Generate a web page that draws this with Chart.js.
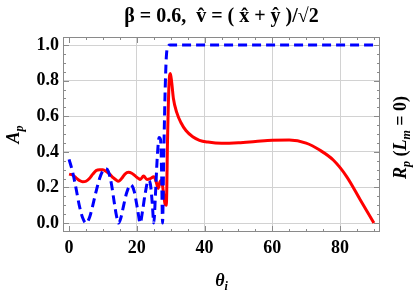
<!DOCTYPE html>
<html>
<head>
<meta charset="utf-8">
<script src="https://cdn.jsdelivr.net/npm/chart.js@4"></script>
<style>
  body { margin: 0; background: #fff; }
  canvas { display: block; }
</style>
</head>
<body>
<canvas id="chart" width="415" height="291"></canvas>
<script>
// Data
const thetaBlue = [0, 1, 2, 3, 4, 5, 6, 7, 8, 9, 10, 10.8, 11.6, 12.5, 13.3, 14, 14.6, 15.3, 16, 17, 18.2, 19.2, 20.2, 21, 21.7, 22.5, 23.4, 24.0, 24.6, 25.0, 25.5, 26.0, 26.6, 27.0, 27.3, 27.6, 27.9, 28.3, 28.7, 29.2, 29.8, 90];
const rpBlue = [0.358, 0.29, 0.20, 0.10, 0.03, 0, 0.03, 0.10, 0.18, 0.25, 0.295, 0.305, 0.29, 0.22, 0.12, 0.04, 0, 0.03, 0.09, 0.17, 0.215, 0.18, 0.08, 0, 0.07, 0.17, 0.24, 0.22, 0.10, 0, 0.16, 0.36, 0.48, 0.47, 0.30, 0, 0.32, 0.70, 0.93, 0.99, 1.0, 1.0];

const thetaRed = [0, 1, 2, 3, 4, 5, 6, 7, 8, 9, 10, 11, 12, 13, 14, 14.5, 15.5, 16.5, 17.5, 18.5, 19.5, 20.5, 21, 22, 23, 24, 25, 25.6, 26.3, 26.8, 27.3, 27.8, 28.3, 28.7, 29.1, 29.5, 29.9, 30.3, 30.8, 31.8, 33, 34.5, 36.5, 38.5, 41, 45, 50, 55, 60, 65, 70, 74, 78, 82, 86, 90];
const apRed = [0.275, 0.27, 0.255, 0.24, 0.232, 0.235, 0.25, 0.275, 0.295, 0.30, 0.30, 0.29, 0.275, 0.255, 0.24, 0.235, 0.25, 0.275, 0.285, 0.28, 0.265, 0.25, 0.245, 0.265, 0.245, 0.25, 0.26, 0.24, 0.195, 0.23, 0.24, 0.18, 0.11, 0.10, 0.50, 0.78, 0.84, 0.79, 0.70, 0.62, 0.565, 0.52, 0.485, 0.465, 0.455, 0.448, 0.451, 0.458, 0.465, 0.466, 0.449, 0.41, 0.354, 0.26, 0.13, 0.0];

const xTicks = [0, 20, 40, 60, 80];
const yTicks = [0, 0.2, 0.4, 0.6, 0.8, 1.0];

const SERIF = "'Liberation Serif', 'DejaVu Serif', serif";

// draws text pieces with subscripts, centred on (cx, cy)
function drawRich(ctx, parts, cx, cy, rot) {
    ctx.save();
    ctx.translate(cx, cy);
    ctx.rotate(rot);
    ctx.textBaseline = 'alphabetic';
    ctx.textAlign = 'left';
    ctx.fillStyle = '#000';
    let total = 0;
    parts.forEach(p => {
        ctx.font = (p.italic ? 'italic ' : '') + 'bold ' + (p.sub ? 12 : 18) + 'px ' + SERIF;
        p.w = ctx.measureText(p.t).width;
        total += p.w;
    });
    let x = -total / 2;
    parts.forEach(p => {
        ctx.font = (p.italic ? 'italic ' : '') + 'bold ' + (p.sub ? 12 : 18) + 'px ' + SERIF;
        ctx.fillText(p.t, x, p.sub ? 10 : 6);
        x += p.w;
    });
    ctx.restore();
}

const framePlugin = {
    id: 'frame',
    beforeDatasetsDraw(chart) {
        const { ctx, chartArea: a, scales: { x, y } } = chart;
        ctx.save();
        ctx.strokeStyle = '#8a8a8a';
        ctx.lineWidth = 1;
        ctx.strokeRect(a.left + 0.5, a.top + 0.5, a.width - 1, a.height - 1);
        ctx.beginPath();
        for (let v = 0; v <= 90; v += 5) {
            const px = Math.round(x.getPixelForValue(v)) + 0.5;
            const len = v % 20 === 0 ? 6 : 3;
            ctx.moveTo(px, a.bottom); ctx.lineTo(px, a.bottom - len);
            ctx.moveTo(px, a.top); ctx.lineTo(px, a.top + len);
        }
        for (let i = 0; i <= 20; i++) {
            const py = Math.round(y.getPixelForValue(i * 0.05)) + 0.5;
            const len = i % 4 === 0 ? 6 : 3;
            ctx.moveTo(a.left, py); ctx.lineTo(a.left + len, py);
            ctx.moveTo(a.right, py); ctx.lineTo(a.right - len, py);
        }
        ctx.stroke();
        ctx.restore();
    },
    afterDraw(chart) {
        const { ctx, chartArea: a } = chart;
        const midY = (a.top + a.bottom) / 2;
        drawRich(ctx, [{ t: 'A', italic: true }, { t: 'p', italic: true, sub: true }], 13, midY, -Math.PI / 2);
        drawRich(ctx, [{ t: 'θ', italic: true }, { t: 'i', italic: true, sub: true }], (a.left + a.right) / 2, 280, 0);
        drawRich(ctx, [
            { t: 'R', italic: true }, { t: 'p', italic: true, sub: true },
            { t: ' (' }, { t: 'L', italic: true }, { t: 'm', italic: true, sub: true },
            { t: ' = 0)' }
        ], 400, midY + 3, -Math.PI / 2);
    }
};

const tickFont = { family: SERIF, size: 18, weight: 'bold' };

new Chart(document.getElementById('chart'), {
    type: 'line',
    data: {
        datasets: [{
            label: 'R_p',
            data: thetaBlue.map((t, i) => ({ x: t, y: rpBlue[i] })),
            borderColor: '#0000ff',
            borderWidth: 3,
            borderDash: [9, 5],
            pointRadius: 0,
            cubicInterpolationMode: 'monotone',
            fill: false
        }, {
            label: 'A_p',
            data: thetaRed.map((t, i) => ({ x: t, y: apRed[i] })),
            borderColor: '#ff0000',
            borderWidth: 3,
            pointRadius: 0,
            cubicInterpolationMode: 'monotone',
            fill: false
        }]
    },
    options: {
        responsive: false,
        animation: false,
        layout: { padding: 0 },
        plugins: {
            legend: { display: false },
            tooltip: { enabled: false },
            title: {
                display: true,
                fullSize: false,
                text: 'β = 0.6,  v̂ = ( x̂ + ŷ )/√2',
                color: '#000',
                font: { family: SERIF, size: 20, weight: 'bold' },
                padding: { top: 5, bottom: 8 }
            }
        },
        scales: {
            x: {
                type: 'linear',
                min: -1.8,
                max: 91.8,
                afterBuildTicks: s => { s.ticks = xTicks.map(v => ({ value: v })); },
                afterFit: s => { s.height = 59; },
                grid: { color: c => c.tick && c.tick.value === 0 ? 'rgba(0,0,0,0)' : '#d2d2d2', drawTicks: false },
                border: { display: false },
                ticks: { padding: 6, color: '#000', font: tickFont, maxRotation: 0 }
            },
            y: {
                type: 'linear',
                min: -0.05,
                max: 1.045,
                afterBuildTicks: s => { s.ticks = yTicks.map(v => ({ value: v })); },
                afterFit: s => { s.width = 63; },
                grid: { color: '#d2d2d2', drawTicks: false },
                border: { display: false },
                ticks: { padding: 4, color: '#000', font: tickFont, callback: v => v.toFixed(1) }
            },
            yRight: {
                type: 'linear',
                position: 'right',
                afterFit: s => { s.width = 35; },
                grid: { display: false },
                border: { display: false },
                ticks: { display: false }
            }
        }
    },
    plugins: [framePlugin]
});
</script>
</body>
</html>
